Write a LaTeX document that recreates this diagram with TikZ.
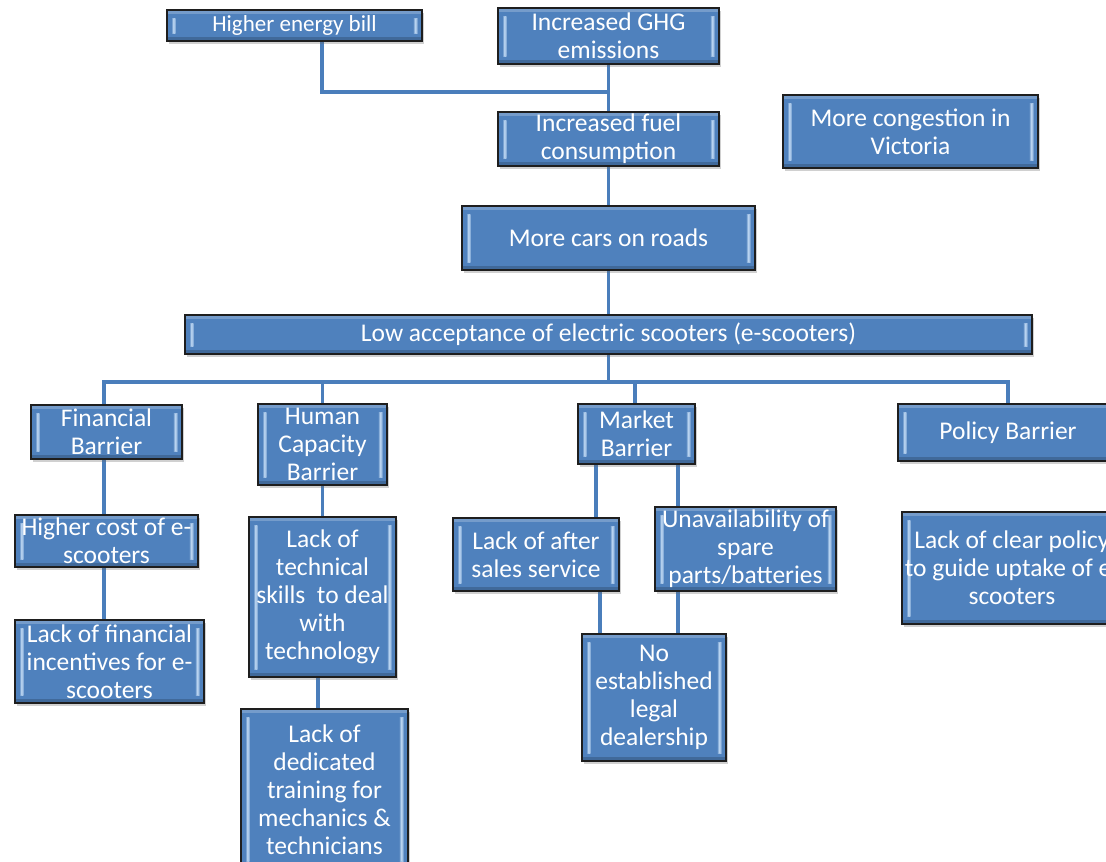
\documentclass[tikz,border=0pt]{standalone}
\usepackage{fontspec}
\setmainfont{Carlito}
\usetikzlibrary{shadows}
\pgfdeclarelayer{paper}
\pgfdeclarelayer{links}
\pgfsetlayers{paper,links,main}
\definecolor{boxblue}{HTML}{4F81BD}
\definecolor{linkblue}{HTML}{4A7EBB}
\definecolor{bevhi}{HTML}{BCD6F2}
\definecolor{edge}{HTML}{1E1E1E}
\tikzset{
  bev/.style={draw=edge, line width=1.6pt, fill=boxblue, text=white,
    align=center, inner sep=0pt,
    font=\fontsize{25.5}{28}\selectfont,
    drop shadow={shadow xshift=2pt, shadow yshift=-3pt, opacity=0.3, fill=black!60},
    path picture={
      \fill[white,opacity=0.22] (path picture bounding box.north west)
        rectangle ([yshift=-4pt]path picture bounding box.north east);
      \fill[black,opacity=0.18] (path picture bounding box.south west)
        rectangle ([yshift=4pt]path picture bounding box.south east);
      \shade[left color=boxblue, right color=bevhi]
        ([xshift=4pt,yshift=-8pt]path picture bounding box.north west)
        rectangle ([xshift=6.5pt,yshift=8pt]path picture bounding box.south west);
      \shade[left color=bevhi, right color=boxblue!60!bevhi]
        ([xshift=6.5pt,yshift=-8pt]path picture bounding box.north west)
        rectangle ([xshift=8.5pt,yshift=8pt]path picture bounding box.south west);
      \shade[left color=boxblue!60!bevhi, right color=bevhi]
        ([xshift=-8.5pt,yshift=-8pt]path picture bounding box.north east)
        rectangle ([xshift=-6.5pt,yshift=8pt]path picture bounding box.south east);
      \shade[left color=bevhi, right color=boxblue]
        ([xshift=-6.5pt,yshift=-8pt]path picture bounding box.north east)
        rectangle ([xshift=-4pt,yshift=8pt]path picture bounding box.south east);
    }},
  small/.style={font=\fontsize{23}{28}\selectfont},
  link/.style={draw=linkblue, line width=3.6pt}
}
\begin{document}
\begin{tikzpicture}[x=1pt,y=-1pt]
\useasboundingbox (0,0) rectangle (1106,862);
\begin{pgfonlayer}{paper}
  \fill[white] (0,0) rectangle (1106,862);
\end{pgfonlayer}

% top chain
\node[bev, small, minimum width=255pt, minimum height=31pt] (energy) at (294.5,25.5) {Higher energy bill};
\node[bev, minimum width=221pt, minimum height=56pt] (ghg) at (608.5,36) {Increased GHG\\emissions};
\node[bev, minimum width=221pt, minimum height=54pt] (fuel) at (608.5,139) {Increased fuel\\consumption};
\node[bev, minimum width=255pt, minimum height=73pt] (cong) at (910.5,131.5) {More congestion in\\Victoria};
\node[bev, minimum width=293pt, minimum height=64pt] (cars) at (608.5,238) {More cars on roads};
\node[bev, minimum width=847pt, minimum height=39pt] (low) at (608.5,334.5) {Low acceptance of electric scooters (e-scooters)};

% barriers
\node[bev, minimum width=151pt, minimum height=54pt] (fin) at (106.5,432) {Financial\\Barrier};
\node[bev, minimum width=129pt, minimum height=81pt] (hum) at (322.5,444.5) {Human\\Capacity\\Barrier};
\node[bev, minimum width=117pt, minimum height=60pt] (mkt) at (636.5,434) {Market\\Barrier};
\node[bev, minimum width=220pt, minimum height=57pt] (pol) at (1008,432.5) {Policy Barrier};

% causes
\node[bev, minimum width=183pt, minimum height=52pt] (cost) at (106.5,541) {Higher cost of e-\\scooters};
\node[bev, minimum width=189pt, minimum height=83pt] (inc) at (109.5,661.5) {Lack of financial\\incentives for e-\\scooters};
\node[bev, minimum width=147pt, minimum height=160pt] (skill) at (322.5,597) {Lack of\\technical\\skills\ \ to deal\\with\\technology};
\node[bev, minimum width=167pt, minimum height=161pt] (train) at (324.5,789.5) {Lack of\\dedicated\\training for\\mechanics \&\\technicians};
\node[bev, minimum width=166pt, minimum height=73pt] (after) at (536,554.5) {Lack of after\\sales service};
\node[bev, minimum width=181pt, minimum height=84pt] (spare) at (745.5,549) {Unavailability of\\spare\\parts/batteries};
\node[bev, minimum width=144pt, minimum height=127pt] (legal) at (654,697.5) {No\\established\\legal\\dealership};
\node[bev, minimum width=220pt, minimum height=112pt] (clear) at (1012,568) {Lack of clear policy\\to guide uptake of e-\\scooters};

% connectors, kept on a layer under the boxes
\begin{pgfonlayer}{links}
  \coordinate (j1) at (608.5,92);
  \coordinate (bus) at (608.5,382);
  \draw[link] (ghg.south) -- (fuel.north);
  \draw[link] ([xshift=27.5pt]energy.south) |- (j1);
  \draw[link] (fuel.south) -- (cars.north);
  \draw[link] (cars.south) -- (low.north);
  \draw[link] (low.south) -- (bus);
  \draw[link] ([xshift=-2.5pt]fin.north) |- (bus) -| (pol.north);
  \draw[link] (hum.north) -- (hum.north |- bus);
  \draw[link] ([xshift=-1.5pt]mkt.north) -- ([xshift=-1.5pt]mkt.north |- bus);
  \draw[link] ([xshift=-2.5pt]fin.south) -- ([xshift=-2.5pt]cost.north);
  \draw[link] ([xshift=-2.5pt]cost.south) -- ([xshift=-5.5pt]inc.north);
  \draw[link] (hum.south) -- (skill.north);
  \draw[link] ([xshift=-4.5pt]skill.south) -- ([xshift=-6.5pt]train.north);
  \draw[link] ([xshift=-40.5pt]mkt.south) -- ([xshift=-40.5pt]mkt.south |- after.north);
  \draw[link] ([xshift=41.5pt]mkt.south) -- ([xshift=41.5pt]mkt.south |- spare.north);
  \draw[link] ([xshift=64pt]after.south) -- ([xshift=64pt]after.south |- legal.north);
  \draw[link] ([xshift=-67.5pt]spare.south) -- ([xshift=-67.5pt]spare.south |- legal.north);
\end{pgfonlayer}
\end{tikzpicture}
\end{document}
